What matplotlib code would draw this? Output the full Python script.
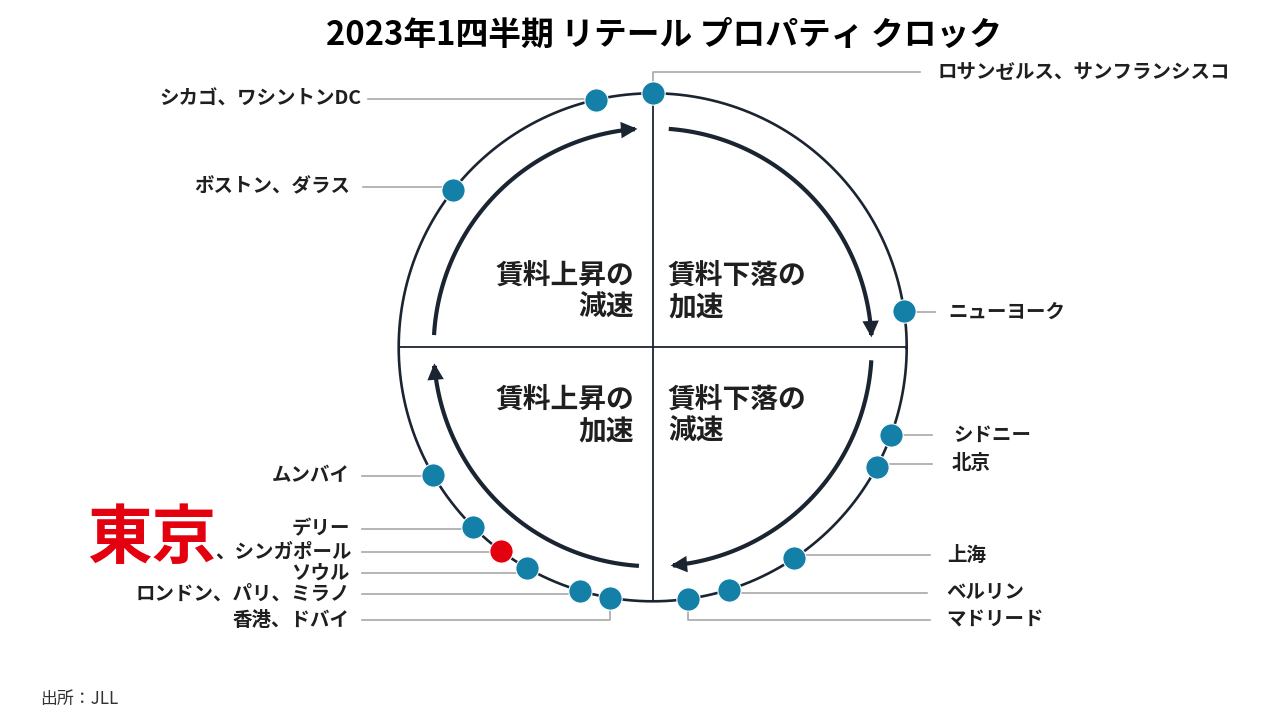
import matplotlib
matplotlib.use('Agg')
import matplotlib.pyplot as plt
import numpy as np
from matplotlib.patches import FancyArrowPatch
from matplotlib.path import Path

plt.rcParams['font.family'] = ['Noto Sans CJK JP', 'DejaVu Sans']

# ---------------- data ----------------
title = "2023年1四半期 リテール プロパティ クロック"
source = "出所：JLL"
cities = ["ロサンゼルス、サンフランシスコ", "シカゴ、ワシントンDC", "ボストン、ダラス",
          "ニューヨーク", "シドニー", "北京", "上海", "ベルリン", "マドリード",
          "ムンバイ", "デリー", "東京、シンガポール", "ソウル",
          "ロンドン、パリ、ミラノ", "香港、ドバイ"]
# position on the clock (degrees, counter-clockwise from 3 o'clock)
clock_angle = [90.0, 102.8, 141.8, 8.2, -20.2, -28.0, -56.1, -72.5, -81.9,
               210.1, 225.0, 233.3, 240.3, 253.4, 260.4]
highlight = "東京"
quadrant_labels = ["賃料上昇の\n減速", "賃料下落の\n加速", "賃料上昇の\n加速", "賃料下落の\n減速"]
# arrow arcs (start, end angle in degrees)
arc_start = [176.8, 85.8, -3.4, -93.6]
arc_end = [94.0, 2.6, -85.3, -175.8]

# ---------------- layout ----------------
cx, cy, R, r_in = 652.7, 347.3, 254.0, 219.0
# side, leader y, leader end x, text x, route
layout = [("R", 72, 920, 938, "v"), ("L", 99.3, 368, 361, "h"), ("L", 187.3, 363, 350, "h"),
          ("R", 312, 935, 948, "h"), ("R", 435, 932, 953, "h"), ("R", 463.5, 932, 952, "h"),
          ("R", 555, 930, 947, "h"), ("R", 592.7, 927, 946, "h"), ("R", 620, 930, 946, "v"),
          ("L", 476, 362, 350, "h"), ("L", 529, 362, 350, "h"), ("L", 551.7, 362, 352, "h"),
          ("L", 573, 362, 350, "h"), ("L", 594.3, 362, 350, "h"), ("L", 620, 362, 350, "v")]

navy = "#1b2431"
dot_blue = "#1480a8"
red = "#e3000f"
grey = "#a8a8a8"
txt = "#1f1f1f"

fig = plt.figure(figsize=(12.8, 7.22), dpi=100)
ax = fig.add_axes([0, 0, 1, 1])
ax.set_xlim(0, 1280)
ax.set_ylim(722, 0)
ax.axis('off')


def pt(ang, rad):
    a = np.deg2rad(ang)
    return cx + rad * np.cos(a), cy - rad * np.sin(a)


# outer circle
th = np.linspace(0, 360, 721)
xs, ys = pt(th, R)
ax.plot(xs, ys, color=navy, lw=1.9, zorder=2)
# quadrant lines
ax.plot([cx, cx], [cy - R, cy + R], color=navy, lw=1.3, zorder=2)
ax.plot([cx - R, cx + R], [cy, cy], color=navy, lw=1.3, zorder=2)

# inner arrows
for a0, a1 in zip(arc_start, arc_end):
    t = np.linspace(a0, a1, 120)
    px, py = pt(t, r_in)
    path = Path(np.column_stack([px, py]))
    arr = FancyArrowPatch(path=path, arrowstyle='-|>,head_length=7,head_width=3.5',
                          color=navy, lw=3.0, shrinkA=0, shrinkB=0, zorder=3,
                          joinstyle='miter', capstyle='butt')
    ax.add_patch(arr)

# leaders, dots, labels
fig.canvas.draw()
renderer = fig.canvas.get_renderer()
inv = ax.transData.inverted()
for name, ang, (side, ly, lx, tx, route) in zip(cities, clock_angle, layout):
    dx, dy = pt(ang, R)
    if route == "h":
        ax.plot([dx, lx], [ly, ly], color=grey, lw=1.2, zorder=1)
    else:
        ax.plot([dx, dx, lx], [dy, ly, ly], color=grey, lw=1.2, zorder=1)
    is_hl = name.startswith(highlight)
    ax.plot(dx, dy, 'o', ms=16.8, color=red if is_hl else dot_blue,
            mec='white', mew=0.8, zorder=5)
    ha = 'left' if side == "R" else 'right'
    if is_hl:
        rest = name[len(highlight):]
        t1 = ax.text(tx, ly + 6, rest, ha='right', va='baseline', fontsize=14,
                     fontweight='bold', color=txt)
        bb = t1.get_window_extent(renderer)
        x0 = inv.transform((bb.x0, bb.y0))[0]
        ax.text(x0 + 1, ly + 6, highlight, ha='right', va='baseline', fontsize=46.5,
                fontweight='bold', color=red)
    else:
        ax.text(tx, ly, name, ha=ha, va='center', fontsize=14,
                fontweight='bold', color=txt)

# quadrant labels
qpos = [(634, 292, 'right'), (668, 292, 'left'), (634, 416, 'right'), (668, 416, 'left')]
for lab, (qx, qy, ha) in zip(quadrant_labels, qpos):
    ax.text(qx, qy, lab, ha=ha, va='center', fontsize=20, fontweight='bold',
            color=txt, linespacing=1.2, multialignment=ha)

# title and source
ax.text(664, 35, title, ha='center', va='center', fontsize=23.6, fontweight='bold', color='black')
ax.text(40, 699, source, ha='left', va='center', fontsize=12.2, color='#333333')

fig.savefig('out.png', dpi=100, facecolor='white')
